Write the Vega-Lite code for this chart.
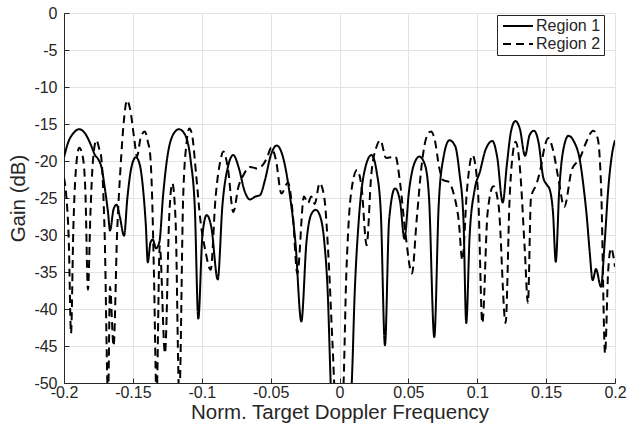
{
  "$schema": "https://vega.github.io/schema/vega-lite/v6.json",
  "width": 551,
  "height": 370,
  "autosize": {"type": "none"},
  "padding": {"left": 64, "top": 13, "right": 14, "bottom": 50},
  "background": "white",
  "config": {
    "view": {"stroke": null},
    "font": "Liberation Sans",
    "axis": {
      "domainColor": "#262626",
      "domainWidth": 1,
      "tickColor": "#262626",
      "labelColor": "#262626",
      "titleColor": "#262626",
      "gridColor": "#e3e3e3",
      "gridWidth": 1,
      "labelFont": "Liberation Sans",
      "titleFont": "Liberation Sans",
      "labelFontSize": 16,
      "titleFontSize": 20.5,
      "titleFontWeight": "normal"
    }
  },
  "datasets": {
    "gain": [
      {"f": -0.2, "g": -19.5, "region": "Region 1"},
      {"f": -0.197, "g": -17.5, "region": "Region 1"},
      {"f": -0.193, "g": -16.2, "region": "Region 1"},
      {"f": -0.189, "g": -15.7, "region": "Region 1"},
      {"f": -0.185, "g": -16.2, "region": "Region 1"},
      {"f": -0.181, "g": -17.6, "region": "Region 1"},
      {"f": -0.1775, "g": -19.2, "region": "Region 1"},
      {"f": -0.175, "g": -19.8, "region": "Region 1"},
      {"f": -0.1726, "g": -21, "region": "Region 1"},
      {"f": -0.1705, "g": -23.5, "region": "Region 1"},
      {"f": -0.168, "g": -27, "region": "Region 1"},
      {"f": -0.1666, "g": -29.4, "region": "Region 1"},
      {"f": -0.164, "g": -26.5, "region": "Region 1"},
      {"f": -0.1618, "g": -25.9, "region": "Region 1"},
      {"f": -0.1595, "g": -27.5, "region": "Region 1"},
      {"f": -0.1564, "g": -30.1, "region": "Region 1"},
      {"f": -0.154, "g": -25, "region": "Region 1"},
      {"f": -0.151, "g": -20.8, "region": "Region 1"},
      {"f": -0.1478, "g": -19.5, "region": "Region 1"},
      {"f": -0.145, "g": -20.5, "region": "Region 1"},
      {"f": -0.1425, "g": -24, "region": "Region 1"},
      {"f": -0.1405, "g": -29, "region": "Region 1"},
      {"f": -0.1392, "g": -33.7, "region": "Region 1"},
      {"f": -0.1372, "g": -31, "region": "Region 1"},
      {"f": -0.1356, "g": -30.6, "region": "Region 1"},
      {"f": -0.1332, "g": -31.8, "region": "Region 1"},
      {"f": -0.1308, "g": -31, "region": "Region 1"},
      {"f": -0.128, "g": -24.5, "region": "Region 1"},
      {"f": -0.125, "g": -19.5, "region": "Region 1"},
      {"f": -0.121, "g": -16.5, "region": "Region 1"},
      {"f": -0.1165, "g": -15.7, "region": "Region 1"},
      {"f": -0.112, "g": -16.5, "region": "Region 1"},
      {"f": -0.108, "g": -20, "region": "Region 1"},
      {"f": -0.105, "g": -26.5, "region": "Region 1"},
      {"f": -0.1025, "g": -41.3, "region": "Region 1"},
      {"f": -0.0995, "g": -30, "region": "Region 1"},
      {"f": -0.0964, "g": -27.3, "region": "Region 1"},
      {"f": -0.093, "g": -29, "region": "Region 1"},
      {"f": -0.0884, "g": -36, "region": "Region 1"},
      {"f": -0.085, "g": -26, "region": "Region 1"},
      {"f": -0.081, "g": -20.8, "region": "Region 1"},
      {"f": -0.0771, "g": -19.2, "region": "Region 1"},
      {"f": -0.073, "g": -21, "region": "Region 1"},
      {"f": -0.069, "g": -24, "region": "Region 1"},
      {"f": -0.065, "g": -25.2, "region": "Region 1"},
      {"f": -0.061, "g": -24.8, "region": "Region 1"},
      {"f": -0.0577, "g": -24.6, "region": "Region 1"},
      {"f": -0.054, "g": -22.5, "region": "Region 1"},
      {"f": -0.05, "g": -19.3, "region": "Region 1"},
      {"f": -0.0455, "g": -17.9, "region": "Region 1"},
      {"f": -0.041, "g": -19.5, "region": "Region 1"},
      {"f": -0.0359, "g": -24.8, "region": "Region 1"},
      {"f": -0.032, "g": -31, "region": "Region 1"},
      {"f": -0.0277, "g": -41.7, "region": "Region 1"},
      {"f": -0.024, "g": -31, "region": "Region 1"},
      {"f": -0.0205, "g": -27.2, "region": "Region 1"},
      {"f": -0.0173, "g": -26.6, "region": "Region 1"},
      {"f": -0.014, "g": -27.5, "region": "Region 1"},
      {"f": -0.011, "g": -31, "region": "Region 1"},
      {"f": -0.0085, "g": -38, "region": "Region 1"},
      {"f": -0.0064, "g": -50, "region": "Region 1"},
      {"f": -0.004, "g": -60, "region": "Region 1"},
      {"f": 0.004, "g": -60, "region": "Region 1"},
      {"f": 0.0089, "g": -50, "region": "Region 1"},
      {"f": 0.011, "g": -38, "region": "Region 1"},
      {"f": 0.014, "g": -28, "region": "Region 1"},
      {"f": 0.018, "g": -21.5, "region": "Region 1"},
      {"f": 0.0232, "g": -19.2, "region": "Region 1"},
      {"f": 0.027, "g": -21.5, "region": "Region 1"},
      {"f": 0.03, "g": -27, "region": "Region 1"},
      {"f": 0.033, "g": -44.9, "region": "Region 1"},
      {"f": 0.036, "g": -28, "region": "Region 1"},
      {"f": 0.0403, "g": -23.7, "region": "Region 1"},
      {"f": 0.044, "g": -25.5, "region": "Region 1"},
      {"f": 0.0471, "g": -30.5, "region": "Region 1"},
      {"f": 0.0505, "g": -24, "region": "Region 1"},
      {"f": 0.054, "g": -20.5, "region": "Region 1"},
      {"f": 0.058, "g": -19.4, "region": "Region 1"},
      {"f": 0.062, "g": -20.5, "region": "Region 1"},
      {"f": 0.065, "g": -25, "region": "Region 1"},
      {"f": 0.0688, "g": -43.8, "region": "Region 1"},
      {"f": 0.072, "g": -26, "region": "Region 1"},
      {"f": 0.0755, "g": -19.5, "region": "Region 1"},
      {"f": 0.0798, "g": -17.2, "region": "Region 1"},
      {"f": 0.084, "g": -18, "region": "Region 1"},
      {"f": 0.087, "g": -21.5, "region": "Region 1"},
      {"f": 0.09, "g": -28, "region": "Region 1"},
      {"f": 0.092, "g": -41.9, "region": "Region 1"},
      {"f": 0.0945, "g": -30, "region": "Region 1"},
      {"f": 0.098, "g": -24, "region": "Region 1"},
      {"f": 0.102, "g": -21.4, "region": "Region 1"},
      {"f": 0.106, "g": -18.5, "region": "Region 1"},
      {"f": 0.111, "g": -17.3, "region": "Region 1"},
      {"f": 0.1145, "g": -19.5, "region": "Region 1"},
      {"f": 0.1185, "g": -25.6, "region": "Region 1"},
      {"f": 0.1215, "g": -20.5, "region": "Region 1"},
      {"f": 0.1245, "g": -16, "region": "Region 1"},
      {"f": 0.1277, "g": -14.6, "region": "Region 1"},
      {"f": 0.131, "g": -15.7, "region": "Region 1"},
      {"f": 0.1347, "g": -19.3, "region": "Region 1"},
      {"f": 0.138, "g": -16.5, "region": "Region 1"},
      {"f": 0.1412, "g": -15.9, "region": "Region 1"},
      {"f": 0.1445, "g": -17.5, "region": "Region 1"},
      {"f": 0.148, "g": -22.3, "region": "Region 1"},
      {"f": 0.1505, "g": -23.2, "region": "Region 1"},
      {"f": 0.1525, "g": -23.8, "region": "Region 1"},
      {"f": 0.155, "g": -27, "region": "Region 1"},
      {"f": 0.157, "g": -33.6, "region": "Region 1"},
      {"f": 0.1595, "g": -24, "region": "Region 1"},
      {"f": 0.162, "g": -19, "region": "Region 1"},
      {"f": 0.1662, "g": -16.6, "region": "Region 1"},
      {"f": 0.17, "g": -17.3, "region": "Region 1"},
      {"f": 0.1746, "g": -20, "region": "Region 1"},
      {"f": 0.1775, "g": -24, "region": "Region 1"},
      {"f": 0.1795, "g": -27.5, "region": "Region 1"},
      {"f": 0.1815, "g": -32, "region": "Region 1"},
      {"f": 0.1838, "g": -36.1, "region": "Region 1"},
      {"f": 0.1862, "g": -34.6, "region": "Region 1"},
      {"f": 0.1898, "g": -37, "region": "Region 1"},
      {"f": 0.1925, "g": -31, "region": "Region 1"},
      {"f": 0.195, "g": -24, "region": "Region 1"},
      {"f": 0.1975, "g": -19.5, "region": "Region 1"},
      {"f": 0.2, "g": -17.2, "region": "Region 1"},

      {"f": -0.2, "g": -22.3, "region": "Region 2"},
      {"f": -0.1985, "g": -24.4, "region": "Region 2"},
      {"f": -0.1965, "g": -31, "region": "Region 2"},
      {"f": -0.1949, "g": -43.3, "region": "Region 2"},
      {"f": -0.1932, "g": -29, "region": "Region 2"},
      {"f": -0.1915, "g": -21.5, "region": "Region 2"},
      {"f": -0.1889, "g": -18.2, "region": "Region 2"},
      {"f": -0.1865, "g": -19.3, "region": "Region 2"},
      {"f": -0.1845, "g": -24, "region": "Region 2"},
      {"f": -0.1826, "g": -37.4, "region": "Region 2"},
      {"f": -0.1808, "g": -27, "region": "Region 2"},
      {"f": -0.179, "g": -20, "region": "Region 2"},
      {"f": -0.1765, "g": -17.2, "region": "Region 2"},
      {"f": -0.1745, "g": -18.3, "region": "Region 2"},
      {"f": -0.1729, "g": -19.6, "region": "Region 2"},
      {"f": -0.1705, "g": -29.8, "region": "Region 2"},
      {"f": -0.168, "g": -52, "region": "Region 2"},
      {"f": -0.1666, "g": -37, "region": "Region 2"},
      {"f": -0.164, "g": -45, "region": "Region 2"},
      {"f": -0.1615, "g": -30, "region": "Region 2"},
      {"f": -0.159, "g": -21, "region": "Region 2"},
      {"f": -0.1565, "g": -14.5, "region": "Region 2"},
      {"f": -0.1543, "g": -11.8, "region": "Region 2"},
      {"f": -0.152, "g": -13, "region": "Region 2"},
      {"f": -0.149, "g": -17, "region": "Region 2"},
      {"f": -0.147, "g": -19.4, "region": "Region 2"},
      {"f": -0.1445, "g": -17, "region": "Region 2"},
      {"f": -0.1414, "g": -16, "region": "Region 2"},
      {"f": -0.139, "g": -17.5, "region": "Region 2"},
      {"f": -0.1375, "g": -19, "region": "Region 2"},
      {"f": -0.1361, "g": -24.4, "region": "Region 2"},
      {"f": -0.1347, "g": -35.2, "region": "Region 2"},
      {"f": -0.1328, "g": -52, "region": "Region 2"},
      {"f": -0.1305, "g": -31.5, "region": "Region 2"},
      {"f": -0.1267, "g": -46, "region": "Region 2"},
      {"f": -0.1235, "g": -27, "region": "Region 2"},
      {"f": -0.1214, "g": -23, "region": "Region 2"},
      {"f": -0.119, "g": -28, "region": "Region 2"},
      {"f": -0.1163, "g": -52, "region": "Region 2"},
      {"f": -0.1135, "g": -25, "region": "Region 2"},
      {"f": -0.111, "g": -17.5, "region": "Region 2"},
      {"f": -0.109, "g": -15.6, "region": "Region 2"},
      {"f": -0.107, "g": -16.5, "region": "Region 2"},
      {"f": -0.104, "g": -22, "region": "Region 2"},
      {"f": -0.101, "g": -28, "region": "Region 2"},
      {"f": -0.0975, "g": -32, "region": "Region 2"},
      {"f": -0.0935, "g": -34.7, "region": "Region 2"},
      {"f": -0.09, "g": -25, "region": "Region 2"},
      {"f": -0.0865, "g": -20, "region": "Region 2"},
      {"f": -0.0843, "g": -18.7, "region": "Region 2"},
      {"f": -0.081, "g": -21, "region": "Region 2"},
      {"f": -0.0771, "g": -26.9, "region": "Region 2"},
      {"f": -0.0734, "g": -23.5, "region": "Region 2"},
      {"f": -0.07, "g": -22, "region": "Region 2"},
      {"f": -0.065, "g": -20.8, "region": "Region 2"},
      {"f": -0.06, "g": -21, "region": "Region 2"},
      {"f": -0.0555, "g": -20.5, "region": "Region 2"},
      {"f": -0.0525, "g": -19.5, "region": "Region 2"},
      {"f": -0.0495, "g": -18.2, "region": "Region 2"},
      {"f": -0.046, "g": -20, "region": "Region 2"},
      {"f": -0.0422, "g": -24.4, "region": "Region 2"},
      {"f": -0.0374, "g": -22.9, "region": "Region 2"},
      {"f": -0.034, "g": -27, "region": "Region 2"},
      {"f": -0.0306, "g": -35.2, "region": "Region 2"},
      {"f": -0.0258, "g": -24.8, "region": "Region 2"},
      {"f": -0.0229, "g": -25.7, "region": "Region 2"},
      {"f": -0.0205, "g": -24.8, "region": "Region 2"},
      {"f": -0.018, "g": -25.8, "region": "Region 2"},
      {"f": -0.0144, "g": -23, "region": "Region 2"},
      {"f": -0.011, "g": -25, "region": "Region 2"},
      {"f": -0.008, "g": -33, "region": "Region 2"},
      {"f": -0.005, "g": -45, "region": "Region 2"},
      {"f": -0.003, "g": -52, "region": "Region 2"},
      {"f": 0.0023, "g": -52, "region": "Region 2"},
      {"f": 0.005, "g": -35, "region": "Region 2"},
      {"f": 0.008, "g": -25, "region": "Region 2"},
      {"f": 0.0127, "g": -21.2, "region": "Region 2"},
      {"f": 0.016, "g": -23.5, "region": "Region 2"},
      {"f": 0.0197, "g": -31.4, "region": "Region 2"},
      {"f": 0.023, "g": -22, "region": "Region 2"},
      {"f": 0.027, "g": -18, "region": "Region 2"},
      {"f": 0.0297, "g": -17.2, "region": "Region 2"},
      {"f": 0.0338, "g": -19.6, "region": "Region 2"},
      {"f": 0.0406, "g": -19.4, "region": "Region 2"},
      {"f": 0.044, "g": -23, "region": "Region 2"},
      {"f": 0.048, "g": -30, "region": "Region 2"},
      {"f": 0.0526, "g": -35.2, "region": "Region 2"},
      {"f": 0.056, "g": -28, "region": "Region 2"},
      {"f": 0.06, "g": -20, "region": "Region 2"},
      {"f": 0.0635, "g": -16.6, "region": "Region 2"},
      {"f": 0.0664, "g": -16, "region": "Region 2"},
      {"f": 0.069, "g": -17, "region": "Region 2"},
      {"f": 0.0725, "g": -21, "region": "Region 2"},
      {"f": 0.0752, "g": -22.6, "region": "Region 2"},
      {"f": 0.079, "g": -22.8, "region": "Region 2"},
      {"f": 0.083, "g": -24.5, "region": "Region 2"},
      {"f": 0.0865, "g": -28, "region": "Region 2"},
      {"f": 0.0892, "g": -33.4, "region": "Region 2"},
      {"f": 0.0925, "g": -24, "region": "Region 2"},
      {"f": 0.0965, "g": -19.2, "region": "Region 2"},
      {"f": 0.1005, "g": -24, "region": "Region 2"},
      {"f": 0.1037, "g": -41.9, "region": "Region 2"},
      {"f": 0.1075, "g": -27, "region": "Region 2"},
      {"f": 0.1117, "g": -23.4, "region": "Region 2"},
      {"f": 0.1155, "g": -26, "region": "Region 2"},
      {"f": 0.1206, "g": -41.9, "region": "Region 2"},
      {"f": 0.1235, "g": -25, "region": "Region 2"},
      {"f": 0.1255, "g": -19.5, "region": "Region 2"},
      {"f": 0.1279, "g": -17.4, "region": "Region 2"},
      {"f": 0.131, "g": -21, "region": "Region 2"},
      {"f": 0.1345, "g": -32, "region": "Region 2"},
      {"f": 0.1368, "g": -39.2, "region": "Region 2"},
      {"f": 0.139, "g": -25, "region": "Region 2"},
      {"f": 0.1432, "g": -23, "region": "Region 2"},
      {"f": 0.146, "g": -21, "region": "Region 2"},
      {"f": 0.149, "g": -18, "region": "Region 2"},
      {"f": 0.1516, "g": -16.9, "region": "Region 2"},
      {"f": 0.155, "g": -18.5, "region": "Region 2"},
      {"f": 0.159, "g": -22.5, "region": "Region 2"},
      {"f": 0.1632, "g": -26.2, "region": "Region 2"},
      {"f": 0.1686, "g": -21.2, "region": "Region 2"},
      {"f": 0.1746, "g": -19.6, "region": "Region 2"},
      {"f": 0.179, "g": -17.5, "region": "Region 2"},
      {"f": 0.1842, "g": -15.9, "region": "Region 2"},
      {"f": 0.1875, "g": -17, "region": "Region 2"},
      {"f": 0.19, "g": -24, "region": "Region 2"},
      {"f": 0.1928, "g": -46, "region": "Region 2"},
      {"f": 0.195, "g": -35, "region": "Region 2"},
      {"f": 0.1971, "g": -31.8, "region": "Region 2"},
      {"f": 0.2, "g": -34.3, "region": "Region 2"}
    ]
  },
  "data": {"name": "gain"},
  "mark": {"type": "line", "interpolate": "monotone", "clip": true, "strokeWidth": 2, "color": "black"},
  "encoding": {
    "x": {
      "field": "f", "type": "quantitative",
      "scale": {"domain": [-0.2, 0.2], "nice": false, "zero": false},
      "axis": {
        "title": "Norm. Target Doppler Frequency",
        "values": [-0.2, -0.15, -0.1, -0.05, 0, 0.05, 0.1, 0.15, 0.2],
        "labelExpr": "'' + datum.value",
        "tickSize": -5,
        "labelPadding": 6,
        "labelFlush": false,
        "titleY": 19,
        "grid": true
      }
    },
    "y": {
      "field": "g", "type": "quantitative",
      "scale": {"domain": [-50, 0], "nice": false, "zero": false},
      "axis": {
        "title": "Gain (dB)",
        "values": [-50, -45, -40, -35, -30, -25, -20, -15, -10, -5, 0],
        "labelExpr": "'' + datum.value",
        "tickSize": -5,
        "labelPadding": 12,
        "labelFlush": false,
        "titleX": -36,
        "titleY": 185,
        "grid": true
      }
    },
    "strokeDash": {
      "field": "region", "type": "nominal",
      "scale": {"domain": ["Region 1", "Region 2"], "range": [[1, 0], [8, 5]]},
      "legend": {
        "title": null,
        "orient": "none",
        "legendX": 433,
        "legendY": 2,
        "strokeColor": "#262626",
        "fillColor": "white",
        "padding": 3,
        "symbolType": "M-1,0H5",
        "symbolSize": 100,
        "symbolStrokeWidth": 2,
        "symbolStrokeColor": "black",
        "symbolFillColor": "transparent",
        "labelFontSize": 16,
        "labelColor": "#262626",
        "labelFont": "Liberation Sans",
        "rowPadding": 2,
        "labelOffset": 20,
        "offset": 0
      }
    }
  }
}
